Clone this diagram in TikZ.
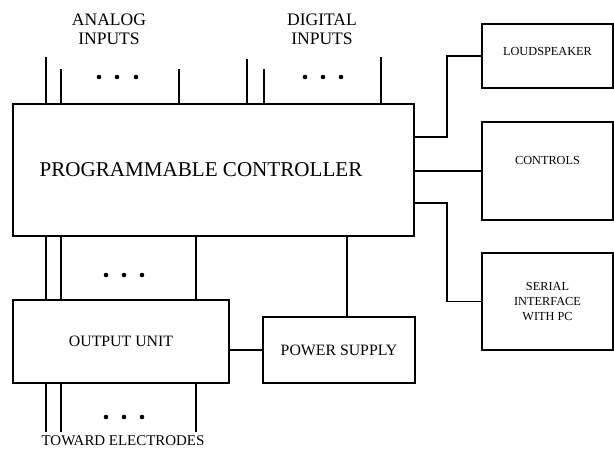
\documentclass[tikz,border=0pt]{standalone}
\usepackage{fontspec}
\setmainfont{Liberation Serif}
\usetikzlibrary{positioning,calc}

\begin{document}
\begin{tikzpicture}[
  x=0.02cm,y=-0.02cm,
  wire/.style={line width=1.1pt,draw=black},
  box/.style={draw=black,line width=1.1pt,fill=white,inner sep=0pt,outer sep=0pt,align=center},
  tinybox/.style={box,font=\fontsize{7}{8.5}\selectfont,minimum width=2.62cm},
  label/.style={align=center,font=\fontsize{10}{11}\selectfont,inner sep=0pt}
]
\useasboundingbox (0,0) rectangle (614,450);
\node[box,minimum width=8.02cm,minimum height=2.64cm,font=\fontsize{12}{14}\selectfont] (ctrl) at (213.5,170) {\hspace*{-0.5cm}PROGRAMMABLE CONTROLLER};
\node[tinybox,minimum height=1.28cm,text depth=0.2cm] (spk) at (547.5,56) {LOUDSPEAKER};
\node[tinybox,minimum height=1.96cm,text depth=0.44cm] (ctl) at (547.5,171) {CONTROLS};
\node[tinybox,minimum height=1.94cm] (ser) at (547.5,301.5) {SERIAL\\INTERFACE\\WITH PC};
\node[box,minimum width=4.32cm,minimum height=1.66cm,font=\fontsize{9}{11}\selectfont] (out) at (121,341.5) {OUTPUT UNIT};
\node[box,minimum width=3.04cm,minimum height=1.32cm,font=\fontsize{9}{11}\selectfont] (psu) at (339,350) {POWER SUPPLY};
\node[label] (ana) at (109,29) {ANALOG\\INPUTS};
\node[label] (dig) at (322,29) {DIGITAL\\INPUTS};
\node[label,font=\fontsize{8.5}{10}\selectfont] (elec) at (123,441) {TOWARD ELECTRODES};
\coordinate (a1) at (46,57);
\coordinate (a2) at (61,69);
\coordinate (a3) at (179,69);
\coordinate (d1) at (247,59);
\coordinate (d2) at (264,69);
\coordinate (d3) at (381,57);
\coordinate (e1) at (46,432);
\coordinate (e2) at (61,432);
\coordinate (e3) at (196,432);
\foreach \p in {a1,a2,a3,d1,d2,d3}
  \draw[wire] (ctrl.north -| \p) -- (\p);
\foreach \p in {e1,e2,e3}
  \draw[wire] (ctrl.south -| \p) -- (out.north -| \p)
              (out.south -| \p) -- (\p);
\foreach \x in {99,117,136} \fill (\x,77) circle (1.3pt);
\foreach \x in {305,323,341} \fill (\x,77) circle (1.3pt);
\foreach \x in {106,124,142} {
  \fill (\x,275) circle (1.3pt);
  \fill (\x,417) circle (1.3pt);
}
\draw[wire] (psu.west) -- (psu.west -| out.east);
\draw[wire] ([xshift=0.16cm]psu.north) -- ([xshift=0.16cm]psu.north |- ctrl.south);
\draw[wire] ([yshift=0.66cm]ctrl.east) -| ([xshift=-0.7cm]spk.west) -- (spk.west);
\draw[wire] (ctl.west -| ctrl.east) -- (ctl.west);
\draw[wire] ([yshift=-0.66cm]ctrl.east) -| ([xshift=-0.7cm]ser.west) -- (ser.west);
\end{tikzpicture}
\end{document}
